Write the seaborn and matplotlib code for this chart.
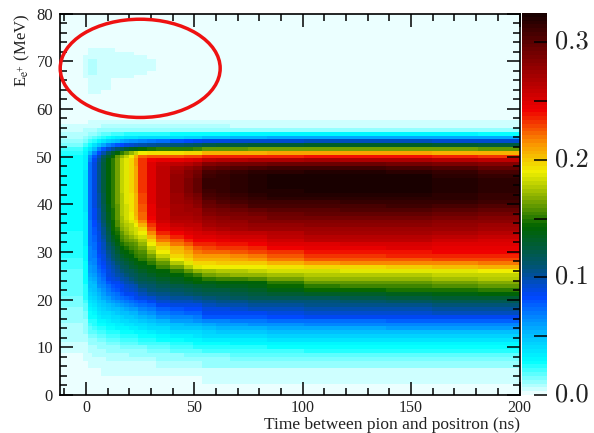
import numpy as np
import matplotlib
matplotlib.use("Agg")
import matplotlib.pyplot as plt
from matplotlib.colors import LinearSegmentedColormap
from matplotlib.patches import Ellipse
from matplotlib.transforms import ScaledTranslation
import seaborn as sns

# histogram binning: 100 x 100 bins
T_MIN, T_MAX = -12.0, 200.0
E_MIN, E_MAX = 0.0, 80.0
N_BINS = 100

# how many histogram columns each table column covers (time runs left to right)
column_spans = [5, 1, 1, 1, 1, 1, 1, 1, 1, 1, 1, 1, 1, 2, 2, 3, 3,
                2, 2, 3, 3, 4, 4, 8, 8, 10, 10, 10, 9]

# cell contents in units of 0.001, top row first
# rows with nothing but background, above and below the small patch
background_row = [2] * 23

# the faint patch inside the ring, E bins 90 down to 79
patch_rows = [
    [2, 2, 4, 4, 4, 4, 4, 4, 2, 2, 2, 2, 2, 2, 2, 2, 2, 2, 2, 2, 2, 2, 2],
    [2, 2, 4, 4, 4, 4, 4, 4, 4, 4, 4, 4, 2, 2, 2, 2, 2, 2, 2, 2, 2, 2, 2],
    [2, 4, 6, 6, 6, 5, 5, 5, 5, 4, 4, 4, 4, 4, 2, 2, 2, 2, 2, 2, 2, 2, 2],
    [2, 4, 7, 7, 6, 5, 5, 5, 5, 5, 4, 4, 4, 4, 4, 2, 2, 2, 2, 2, 2, 2, 2],
    [2, 4, 7, 7, 6, 5, 5, 5, 5, 5, 4, 4, 4, 4, 4, 2, 2, 2, 2, 2, 2, 2, 2],
    [2, 4, 7, 7, 6, 5, 5, 5, 5, 5, 4, 4, 4, 4, 4, 2, 2, 2, 2, 2, 2, 2, 2],
    [2, 4, 7, 7, 6, 5, 5, 5, 5, 4, 4, 4, 4, 4, 2, 2, 2, 2, 2, 2, 2, 2, 2],
    [2, 4, 6, 6, 5, 5, 4, 4, 4, 4, 4, 4, 2, 2, 2, 2, 2, 2, 2, 2, 2, 2, 2],
    [2, 2, 5, 5, 4, 4, 4, 2, 2, 2, 2, 2, 2, 2, 2, 2, 2, 2, 2, 2, 2, 2, 2],
    [2, 2, 5, 5, 4, 4, 4, 2, 2, 2, 2, 2, 2, 2, 2, 2, 2, 2, 2, 2, 2, 2, 2],
    [2, 2, 5, 5, 4, 4, 4, 2, 2, 2, 2, 2, 2, 2, 2, 2, 2, 2, 2, 2, 2, 2, 2],
    [2, 2, 4, 4, 4, 2, 2, 2, 2, 2, 2, 2, 2, 2, 2, 2, 2, 2, 2, 2, 2, 2, 2],
]

# upper edge of the band, E bins 72 down to 54
upper_edge_rows = [
    [2, 2, 2, 3, 3, 3, 3, 3, 3, 3, 3, 3, 3, 3, 3, 3, 3, 3, 3, 3, 2, 2, 2],
    [3, 3, 4, 4, 4, 4, 4, 4, 4, 4, 4, 4, 4, 4, 4, 4, 4, 4, 4, 4, 4, 4, 4],
    [4, 5, 6, 6, 6, 7, 7, 7, 7, 7, 7, 7, 7, 7, 7, 7, 7, 7, 7, 6, 6, 6, 6],
    [6, 7, 8, 9, 10, 10, 11, 11, 11, 11, 11, 11, 11, 11, 11, 11, 11, 11, 11, 12, 12, 12, 12],
    [7, 9, 11, 13, 15, 17, 19, 20, 21, 22, 23, 24, 24, 25, 26, 26, 27, 28, 29, 30, 30, 30, 29],
    [9, 12, 15, 18, 22, 26, 29, 31, 33, 35, 36, 37, 38, 39, 39, 40, 41, 45, 50, 55, 58, 58, 56],
    [12, 16, 20, 26, 32, 38, 44, 48, 52, 56, 59, 62, 64, 67, 69, 72, 80, 85, 90, 93, 95, 95, 92],
    [15, 22, 28, 38, 48, 58, 66, 72, 78, 84, 88, 92, 95, 99, 102, 105, 110, 116, 122, 127, 130, 130, 125],
    [20, 27, 38, 52, 66, 80, 92, 102, 112, 120, 128, 134, 138, 144, 148, 150, 150, 155, 160, 163, 165, 165, 160],
    [24, 31, 50, 68, 84, 100, 116, 130, 143, 152, 160, 172, 182, 190, 192, 192, 192, 198, 205, 208, 210, 210, 205],
    [27, 33, 62, 80, 96, 116, 132, 146, 160, 172, 180, 190, 205, 222, 225, 226, 226, 230, 234, 236, 238, 238, 233],
    [28, 34, 68, 86, 102, 122, 140, 152, 165, 180, 188, 195, 212, 232, 243, 245, 246, 252, 262, 268, 270, 268, 262],
    [28, 35, 72, 88, 105, 124, 142, 152, 165, 180, 188, 195, 212, 232, 250, 258, 262, 272, 285, 292, 295, 292, 283],
    [28, 35, 73, 89, 105, 125, 143, 152, 165, 180, 188, 195, 211, 232, 250, 262, 270, 285, 298, 308, 310, 308, 298],
    [28, 36, 74, 90, 105, 125, 143, 152, 165, 180, 188, 195, 211, 232, 250, 262, 275, 292, 306, 316, 320, 318, 308],
    [28, 36, 74, 90, 105, 125, 143, 152, 165, 180, 188, 195, 210, 232, 250, 262, 277, 295, 310, 320, 324, 322, 313],
    [28, 36, 74, 90, 105, 125, 143, 152, 165, 180, 188, 195, 210, 232, 250, 262, 278, 298, 312, 320, 325, 325, 316],
    [28, 36, 74, 90, 105, 125, 143, 152, 165, 180, 188, 195, 210, 232, 250, 262, 278, 298, 312, 320, 325, 325, 316],
    [28, 36, 74, 90, 105, 125, 143, 152, 165, 180, 188, 195, 210, 232, 250, 262, 278, 298, 312, 320, 325, 325, 316],
]

# middle of the band, E bins 53 down to 33
band_rows = [
    [28, 36, 74, 90, 105, 124, 143, 152, 165, 179, 188, 195, 209, 231, 249, 262, 277, 296, 310, 319, 322, 323, 316],
    [28, 36, 74, 89, 104, 123, 142, 151, 164, 178, 187, 194, 208, 230, 249, 261, 276, 292, 306, 317, 320, 321, 315],
    [28, 36, 73, 89, 103, 122, 141, 151, 164, 178, 187, 194, 207, 229, 248, 261, 275, 288, 303, 314, 316, 318, 313],
    [28, 36, 73, 88, 102, 121, 140, 150, 163, 177, 186, 193, 207, 228, 247, 260, 274, 284, 298, 311, 311, 314, 310],
    [28, 36, 73, 88, 101, 120, 139, 150, 162, 177, 185, 192, 206, 227, 246, 260, 272, 280, 293, 306, 306, 309, 305],
    [28, 36, 72, 87, 100, 118, 138, 149, 161, 176, 185, 192, 205, 225, 245, 259, 271, 276, 288, 298, 302, 304, 298],
    [28, 35, 72, 87, 99, 116, 136, 149, 161, 176, 184, 191, 205, 224, 244, 258, 270, 273, 283, 292, 297, 298, 292],
    [28, 35, 72, 86, 98, 115, 135, 148, 160, 175, 183, 190, 204, 222, 243, 257, 268, 270, 278, 286, 292, 292, 286],
    [28, 35, 71, 84, 96, 112, 132, 146, 158, 173, 181, 187, 198, 216, 239, 254, 264, 267, 274, 283, 285, 285, 280],
    [27, 35, 71, 82, 94, 110, 128, 145, 156, 170, 178, 182, 190, 208, 233, 250, 259, 263, 270, 278, 280, 280, 276],
    [27, 34, 71, 80, 92, 107, 125, 144, 152, 166, 174, 180, 185, 196, 226, 245, 253, 258, 265, 273, 275, 275, 270],
    [26, 34, 70, 78, 90, 105, 122, 143, 148, 161, 170, 178, 183, 190, 215, 235, 243, 253, 256, 261, 270, 270, 265],
    [26, 34, 70, 77, 89, 103, 120, 136, 145, 157, 165, 172, 177, 184, 207, 226, 234, 248, 250, 255, 265, 265, 259],
    [26, 33, 70, 76, 88, 100, 118, 130, 143, 153, 160, 165, 168, 178, 198, 218, 226, 243, 243, 250, 262, 262, 252],
    [26, 33, 69, 74, 87, 97, 113, 124, 138, 148, 154, 159, 162, 172, 190, 208, 218, 235, 237, 243, 250, 252, 248],
    [25, 32, 68, 73, 86, 95, 109, 118, 132, 143, 148, 153, 158, 165, 182, 198, 208, 226, 230, 236, 245, 247, 245],
    [25, 32, 67, 71, 85, 92, 106, 115, 127, 138, 143, 149, 153, 159, 174, 190, 202, 220, 222, 228, 238, 240, 243],
    [23, 31, 66, 70, 84, 90, 103, 112, 122, 130, 137, 143, 150, 154, 165, 181, 196, 212, 212, 220, 232, 234, 236],
    [22, 30, 65, 68, 81, 88, 100, 108, 117, 125, 130, 137, 143, 150, 158, 172, 190, 205, 205, 212, 225, 227, 228],
    [21, 29, 63, 66, 78, 85, 97, 104, 112, 120, 125, 132, 137, 143, 151, 160, 178, 198, 198, 200, 214, 216, 218],
    [20, 28, 61, 64, 76, 83, 94, 100, 107, 116, 120, 127, 131, 137, 143, 155, 165, 186, 190, 190, 195, 200, 205],
]

# lower tail, E bins 32 down to 9
tail_rows = [
    [19, 27, 60, 62, 74, 80, 90, 96, 102, 108, 114, 120, 125, 131, 138, 143, 150, 170, 175, 180, 185, 187, 190],
    [19, 27, 58, 59, 71, 77, 88, 92, 98, 104, 109, 115, 120, 126, 132, 138, 143, 155, 165, 172, 178, 178, 182],
    [19, 27, 55, 57, 68, 74, 85, 89, 94, 100, 104, 110, 115, 122, 125, 132, 136, 146, 150, 158, 170, 172, 176],
    [19, 27, 52, 54, 65, 71, 80, 85, 87, 93, 98, 103, 108, 114, 120, 125, 130, 140, 138, 143, 160, 162, 168],
    [19, 26, 50, 52, 62, 68, 74, 80, 84, 87, 92, 96, 100, 108, 113, 120, 122, 128, 132, 138, 152, 154, 160],
    [18, 25, 47, 49, 58, 64, 70, 75, 79, 85, 89, 92, 95, 102, 108, 113, 116, 121, 124, 130, 145, 147, 150],
    [18, 24, 45, 47, 55, 60, 65, 70, 74, 78, 85, 86, 90, 97, 102, 107, 110, 115, 118, 125, 132, 135, 143],
    [16, 23, 42, 45, 52, 57, 61, 65, 69, 72, 77, 80, 85, 90, 94, 100, 103, 106, 110, 118, 120, 125, 128],
    [15, 21, 38, 40, 48, 52, 56, 60, 64, 67, 70, 72, 77, 80, 85, 92, 96, 99, 102, 110, 110, 115, 118],
    [14, 19, 35, 37, 44, 48, 51, 55, 58, 61, 63, 66, 69, 73, 77, 85, 88, 91, 95, 103, 105, 107, 110],
    [13, 18, 32, 34, 40, 44, 47, 50, 52, 55, 57, 59, 61, 65, 70, 77, 80, 84, 88, 95, 98, 100, 103],
    [12, 16, 29, 31, 36, 40, 42, 45, 47, 50, 51, 53, 55, 59, 63, 69, 73, 77, 85, 87, 92, 93, 96],
    [11, 15, 27, 28, 33, 36, 38, 40, 42, 44, 46, 48, 50, 53, 56, 62, 66, 70, 78, 80, 85, 86, 87],
    [10, 13, 24, 25, 30, 32, 34, 36, 38, 39, 41, 43, 44, 47, 50, 55, 59, 62, 67, 70, 73, 75, 75],
    [9, 12, 22, 23, 27, 29, 30, 32, 34, 35, 37, 38, 39, 42, 44, 48, 52, 55, 58, 62, 66, 67, 67],
    [9, 11, 19, 20, 24, 25, 27, 28, 30, 31, 32, 33, 34, 37, 39, 42, 46, 48, 51, 55, 58, 59, 59],
    [8, 10, 17, 18, 21, 22, 24, 25, 26, 27, 28, 29, 30, 32, 34, 37, 40, 42, 45, 48, 52, 52, 52],
    [8, 9, 15, 15, 18, 19, 20, 21, 22, 23, 24, 25, 26, 28, 29, 32, 34, 36, 39, 41, 45, 45, 45],
    [7, 8, 13, 13, 15, 16, 17, 18, 19, 20, 21, 22, 22, 24, 25, 27, 29, 31, 33, 35, 37, 37, 37],
    [6, 6, 10, 11, 12, 13, 14, 15, 16, 17, 17, 18, 18, 20, 21, 22, 24, 27, 29, 30, 31, 31, 31],
    [5, 5, 8, 9, 10, 11, 12, 12, 13, 14, 14, 15, 15, 16, 17, 18, 21, 23, 25, 26, 27, 27, 27],
    [4, 5, 7, 8, 9, 9, 10, 10, 11, 11, 12, 12, 12, 13, 14, 15, 17, 19, 20, 21, 23, 23, 23],
    [3, 4, 6, 7, 7, 8, 8, 8, 9, 9, 9, 10, 10, 10, 11, 12, 13, 15, 16, 17, 19, 19, 19],
    [3, 4, 5, 6, 6, 6, 7, 7, 7, 7, 8, 8, 8, 8, 9, 10, 11, 12, 13, 14, 15, 15, 15],
]

# floor rows, E bins 8 down to 0, several bins alike
floor_rows = [
    [3, 3, 4, 4, 5, 5, 5, 5, 5, 5, 6, 6, 6, 6, 6, 7, 8, 9, 10, 11, 12, 12, 12],
    [3, 3, 4, 4, 5, 5, 5, 5, 5, 5, 6, 6, 6, 6, 6, 7, 8, 9, 10, 11, 12, 12, 12],
    [3, 3, 3, 3, 3, 4, 4, 4, 4, 4, 4, 4, 4, 4, 5, 5, 5, 5, 5, 5, 5, 5, 5],
    [3, 3, 3, 3, 3, 4, 4, 4, 4, 4, 4, 4, 4, 4, 5, 5, 5, 5, 5, 5, 5, 5, 5],
    [2, 2, 3, 3, 3, 3, 3, 3, 3, 3, 3, 3, 3, 3, 3, 3, 3, 3, 4, 4, 4, 4, 4],
    [2, 2, 3, 3, 3, 3, 3, 3, 3, 3, 3, 3, 3, 3, 3, 3, 3, 3, 4, 4, 4, 4, 4],
    background_row,
    background_row,
    background_row,
]

# extra late-time slices, E bins 72 down to 3 (same units)
slice_46ns = [3, 4, 7, 11, 27, 43, 82, 113, 152, 195, 228, 248, 266, 277, 283, 286, 288, 288, 288,
              287, 284, 281, 279, 276, 274, 272, 269, 265, 261, 255, 248, 241, 234, 226, 217, 211, 204, 197, 188, 176,
              160, 149, 141, 135, 125, 118, 112, 104, 97, 89, 82, 75, 68, 60, 53, 47, 41, 35, 30, 25, 22, 18, 14, 11,
              8, 8, 5, 5, 3, 3]
slice_62ns = [3, 4, 7, 11, 29, 52, 91, 124, 161, 206, 235, 264, 288, 302, 310, 314, 315, 315, 315,
              314, 311, 307, 303, 298, 292, 287, 281, 277, 273, 268, 258, 252, 246, 238, 232, 224, 214, 207, 199, 190,
              177, 167, 153, 140, 134, 126, 120, 113, 105, 98, 91, 86, 79, 68, 60, 53, 46, 40, 34, 29, 25, 20, 16, 13,
              10, 10, 5, 5, 4, 4]
slice_70ns = [3, 4, 6, 12, 30, 53, 92, 125, 162, 207, 235, 266, 290, 305, 313, 317, 318, 318, 318,
              317, 314, 310, 306, 302, 294, 289, 283, 279, 275, 270, 260, 254, 248, 240, 233, 225, 216, 209, 199, 190,
              178, 169, 155, 142, 135, 128, 122, 115, 107, 99, 92, 87, 80, 69, 61, 54, 47, 40, 34, 30, 26, 21, 17, 14,
              11, 11, 5, 5, 4, 4]
slice_90ns = [2, 4, 6, 12, 30, 56, 94, 129, 164, 209, 237, 269, 294, 309, 318, 322, 323, 323, 323,
              321, 319, 316, 311, 306, 300, 295, 290, 284, 279, 274, 266, 260, 256, 248, 241, 233, 226, 219, 207, 193,
              183, 175, 164, 152, 145, 138, 129, 120, 110, 104, 97, 90, 83, 72, 64, 57, 50, 43, 36, 31, 27, 22, 18, 15,
              12, 12, 5, 5, 4, 4]
slice_125ns = [2, 4, 6, 12, 30, 58, 95, 130, 165, 210, 238, 269, 294, 310, 319, 323, 325, 325, 325,
               323, 321, 317, 312, 308, 303, 298, 292, 285, 280, 275, 270, 265, 262, 251, 246, 239, 233, 226, 215, 198,
               186, 178, 171, 161, 153, 146, 133, 122, 112, 106, 99, 92, 85, 74, 66, 58, 52, 45, 37, 31, 27, 23, 19, 15,
               12, 12, 5, 5, 4, 4]
slice_165ns = [2, 4, 6, 12, 30, 57, 94, 128, 163, 208, 236, 266, 288, 304, 314, 318, 321, 321, 321,
               320, 318, 316, 312, 307, 301, 295, 289, 282, 278, 273, 268, 262, 255, 250, 246, 242, 235, 228, 217, 202,
               188, 180, 174, 165, 157, 149, 139, 127, 117, 109, 102, 95, 86, 75, 67, 59, 52, 45, 37, 31, 27, 23, 19, 15,
               12, 12, 5, 5, 4, 4]

x_major = [0, 50, 100, 150, 200]
x_minor = [-10, 10, 20, 30, 40, 60, 70, 80, 90, 110, 120, 130, 140, 160, 170, 180, 190]
y_major = [0, 10, 20, 30, 40, 50, 60, 70, 80]
y_minor = [e for e in range(2, 80, 2) if e % 10 != 0]
cbar_ticks = [0.0, 0.05, 0.1, 0.15, 0.2, 0.25, 0.3]
cbar_labels = ["0.0", "", "0.1", "", "0.2", "", "0.3"]

# the ring drawn by hand over the plot, in data units
ring_t, ring_e = 25.0, 68.5
ring_width, ring_height = 73.8, 20.6

# ROOT-like palette, estimated from the colour bar
palette = [
    (0.000, (235, 255, 255)),
    (0.027, (0, 255, 255)),
    (0.050, (0, 190, 255)),
    (0.083, (0, 70, 255)),
    (0.110, (0, 85, 110)),
    (0.143, (0, 100, 0)),
    (0.165, (120, 165, 0)),
    (0.190, (240, 240, 0)),
    (0.214, (250, 150, 0)),
    (0.243, (240, 0, 0)),
    (0.300, (95, 0, 0)),
    (0.325, (25, 0, 0)),
]
VMAX = 0.325
cmap = LinearSegmentedColormap.from_list(
    "root_hot",
    [(v / VMAX, tuple(c / 255 for c in rgb)) for v, rgb in palette],
    N=100,
)


def t_pos(t):
    return (np.asarray(t, dtype=float) - T_MIN) / (T_MAX - T_MIN) * N_BINS


def e_pos(e):
    # heatmap rows count from the top
    return (E_MAX - np.asarray(e, dtype=float)) / (E_MAX - E_MIN) * N_BINS


def full_slice(values):
    # rows above E bin 72 and below E bin 3 stay at the background
    return [2] * 27 + values + [2] * 3


rows = (
    [background_row] * 9 + patch_rows + [background_row] * 6
    + upper_edge_rows + band_rows + tail_rows + floor_rows
)
table = np.array(rows, dtype=float)
slices = np.column_stack([full_slice(s) for s in
                          (slice_46ns, slice_62ns, slice_70ns, slice_90ns, slice_125ns, slice_165ns)])
table = np.insert(table, [17, 19, 19, 20, 21, 22], slices, axis=1)
grid = np.repeat(table / 1000.0, column_spans, axis=1)

plt.rcParams["font.family"] = ["Liberation Serif", "DejaVu Serif"]
plt.rcParams["mathtext.fontset"] = "stix"

W, H = 594, 433
fig = plt.figure(figsize=(W / 100, H / 100), dpi=100)
ax = fig.add_axes([60 / W, 1 - 395 / H, 459.5 / W, 381.5 / H])
cax = fig.add_axes([522 / W, 1 - 395 / H, 25 / W, 382 / H])

sns.heatmap(grid, ax=ax, cbar_ax=cax, cmap=cmap, vmin=0.0, vmax=VMAX,
            xticklabels=False, yticklabels=False)

for side in ax.spines.values():
    side.set_visible(True)
    side.set_linewidth(1.2)
    side.set_color("black")

ax.set_xticks(t_pos(x_major))
ax.set_xticks(t_pos(x_minor), minor=True)
ax.set_xticklabels([str(t) for t in x_major], rotation=0, fontsize=11.5, color="#222222")
ax.set_yticks(e_pos(y_major))
ax.set_yticks(e_pos(y_minor), minor=True)
ax.set_yticklabels([str(e) for e in y_major], rotation=0, fontsize=12, color="#222222")
ax.tick_params(which="both", direction="in", top=True, right=True, width=1.1, color="black")
ax.tick_params(which="major", length=9.5, pad=5)
ax.tick_params(axis="x", which="major", pad=3.5)
ax.tick_params(which="minor", length=5)

ax.set_xlabel("Time between pion and positron (ns)", fontsize=12.5, loc="right",
              va="center", color="#222222")
ax.xaxis.set_label_coords(1.0, -30 / 381.5)
ax.set_ylabel(r"E$_{\mathrm{e}^{+}}$ (MeV)", fontsize=12, loc="top", labelpad=3,
              color="#222222")

ring = Ellipse(
    (float(t_pos(ring_t)), float(e_pos(ring_e))),
    ring_width / (T_MAX - T_MIN) * N_BINS,
    ring_height / (E_MAX - E_MIN) * N_BINS,
    fill=False, edgecolor="#ee1111", linewidth=2.5, clip_on=False, zorder=5,
)
ax.add_patch(ring)

cax.set_yticks(cbar_ticks)
cax.set_yticklabels(cbar_labels, fontfamily="cmr10", fontsize=19, color="#222222")
cax.tick_params(axis="y", direction="in", length=9.5, width=1.1, pad=6, color="black",
                right=True, left=False)
cax.minorticks_off()
lift = ScaledTranslation(0, 3 / 72 * 0.72, fig.dpi_scale_trans)
for label in cax.get_yticklabels():
    label.set_transform(label.get_transform() + lift)

fig.savefig("out.png", dpi=100)
plt.close(fig)
